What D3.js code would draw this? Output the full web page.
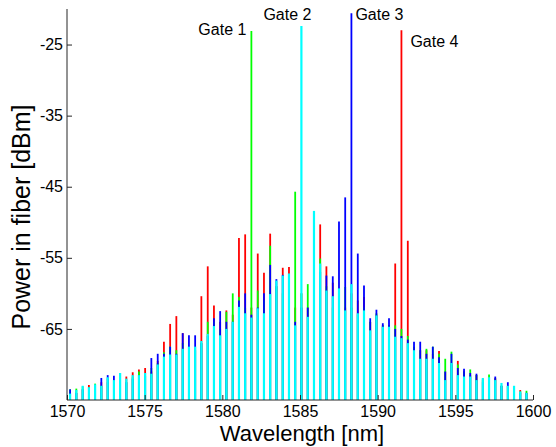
<!DOCTYPE html>
<html>
<head>
<meta charset="utf-8">
<script src="https://cdn.jsdelivr.net/npm/d3@7"></script>
<style>
  body { margin: 0; background: #fff; }
  svg { display: block; font-family: "Liberation Sans", Arial, Helvetica, sans-serif; }
</style>
</head>
<body>
<div id="chart"></div>
<script>
// comb line wavelengths [nm]
var wavelengths = [
  1570.20, 1570.60, 1571.01, 1571.41, 1571.81, 1572.21, 1572.62, 1573.02, 1573.42, 1573.82,
  1574.23, 1574.63, 1575.03, 1575.43, 1575.84, 1576.24, 1576.64, 1577.04, 1577.45, 1577.85,
  1578.25, 1578.65, 1579.06, 1579.46, 1579.86, 1580.26, 1580.67, 1581.07, 1581.47, 1581.87,
  1582.28, 1582.68, 1583.08, 1583.48, 1583.89, 1584.29, 1584.69, 1585.09, 1585.50, 1585.90,
  1586.30, 1586.70, 1587.11, 1587.51, 1587.91, 1588.31, 1588.72, 1589.12, 1589.52, 1589.92,
  1590.33, 1590.73, 1591.13, 1591.53, 1591.94, 1592.34, 1592.74, 1593.14, 1593.55, 1593.95,
  1594.35, 1594.75, 1595.16, 1595.56, 1595.96, 1596.36, 1596.77, 1597.17, 1597.57, 1597.97,
  1598.38, 1598.78, 1599.18, 1599.58
];

// peak power per comb line [dBm], one array per gate
var redPower = [   // gate 4
  -74, -74, -73.5, -72.9, -73, -72.5, -72.5, -72.5, -72, -71.7,
  -71.1, -70.7, -70.5, -71.0, -69.5, -66.8, -64.3, -63.2, -65.6, -68,
  -68, -60.4, -56.2, -61.7, -64, -62.4, -63, -52.2, -51.7, -62,
  -54.4, -57.1, -51.6, -59, -56.4, -56.3, -62, -60, -62, -55,
  -50.3, -56.2, -58.5, -60, -62, -60, -61, -60.5, -64, -63,
  -64.5, -64.5, -55.8, -23.0, -52.6, -68, -68, -68.0, -68.5, -68.1,
  -71, -70, -69.5, -71, -71.5, -71.5, -72, -72, -71.9, -73,
  -73, -73.3, -73.6, -74
];
var greenPower = [ // gate 1
  -73.5, -73.4, -73.1, -73.2, -72.7, -73, -72, -72.3, -72, -72.5,
  -71.8, -71.0, -71.5, -70.5, -69.8, -68.3, -67.5, -68, -67, -67.6,
  -68, -67, -64.0, -64, -65, -62.6, -60.0, -60.5, -62, -23.1,
  -59.6, -61, -53.3, -59, -60, -59, -45.7, -60, -58.7, -55,
  -55.1, -59, -62, -62, -59.1, -62, -63, -62, -64, -62.8,
  -64.5, -64.5, -64.5, -65, -66, -67.5, -68, -67.8, -67.5, -68.5,
  -69.2, -68.2, -70, -71, -70.7, -71.5, -72.2, -71.4, -72, -73,
  -73, -73.3, -73.8, -73.7
];
var bluePower = [  // gate 3
  -73.5, -74, -73.5, -73.5, -73, -71.9, -71.5, -71.6, -71.4, -72.5,
  -72, -71.5, -71.5, -69.1, -68.5, -68.5, -67.5, -68.5, -65.6, -65.9,
  -65.9, -67, -66, -63.5, -62.5, -64, -64, -61, -60, -63,
  -62, -60, -56, -58.0, -57.4, -57.5, -64, -62, -62, -52,
  -57, -57.5, -57.6, -49.9, -46.5, -20.6, -54.4, -58.9, -63.5, -62.3,
  -64.2, -63.5, -65, -66, -66.5, -66.8, -66.8, -68.5, -67.5, -69,
  -71, -68.5, -70.5, -70.6, -71.2, -71.3, -72.5, -72, -71.7, -73,
  -72.5, -73.5, -74, -74
];
var cyanPower = [  // gate 2
  -74.1, -73.6, -73.0, -73.2, -72.8, -73.0, -71.8, -72.2, -71.2, -72.0,
  -71.5, -71.5, -71.2, -71.3, -70.0, -68.9, -68.6, -68.6, -67.8, -67.5,
  -67.5, -66.7, -65.7, -64.6, -65.9, -65.0, -64.0, -61.9, -62.8, -63.4,
  -62.1, -62.8, -60.1, -58.2, -57.5, -57.2, -64.5, -22.4, -63.3, -48.4,
  -55.8, -59.6, -60.4, -59.3, -62.4, -58.7, -62.8, -62.4, -65.2, -63.1,
  -64.7, -64.7, -66.1, -66.3, -67.0, -68.0, -69.2, -69.2, -69.2, -69.8,
  -72.2, -69.8, -71.5, -71.7, -71.7, -72.2, -71.9, -71.8, -72.2, -72.6,
  -73.0, -73.0, -73.8, -74.0
];

var xTicks = [1570, 1575, 1580, 1585, 1590, 1595, 1600];
var yTicks = [-25, -35, -45, -55, -65];
var gateNames = ["Gate 1", "Gate 2", "Gate 3", "Gate 4"];
var gateWavelengths = [1581.87, 1585.09, 1588.31, 1591.53];

var width = 556, height = 447;
var margin = {top: 9, right: 23, bottom: 47, left: 67};
var innerW = width - margin.left - margin.right,
    innerH = height - margin.top - margin.bottom;

var svg = d3.select("#chart").append("svg")
    .attr("width", width)
    .attr("height", height);

var x = d3.scaleLinear().domain([1570, 1600]).range([0, innerW]);
var y = d3.scaleLinear().domain([-75, -20]).range([innerH, 0]);

var g = svg.append("g").attr("transform", "translate(" + margin.left + "," + margin.top + ")");

g.append("clipPath").attr("id", "clip")
  .append("rect").attr("width", innerW).attr("height", innerH);

var plot = g.append("g").attr("clip-path", "url(#clip)");

var series = [
  {values: redPower,   color: "#ff0000", w: 1.8},
  {values: greenPower, color: "#00ff00", w: 1.8},
  {values: bluePower,  color: "#0000ff", w: 1.8},
  {values: cyanPower,  color: "#00ffff", w: 2.2}
];

series.forEach(function(s) {
  plot.append("g").selectAll("line")
      .data(s.values)
    .enter().append("line")
      .attr("x1", function(d, i) { return x(wavelengths[i]); })
      .attr("x2", function(d, i) { return x(wavelengths[i]); })
      .attr("y1", innerH + 2)
      .attr("y2", function(d) { return y(d); })
      .attr("stroke", s.color)
      .attr("stroke-width", s.w);
});

// axes (MATLAB style, ticks inward, no box)
var axisColor = "#262626";
var xAxis = g.append("g").attr("transform", "translate(0," + innerH + ")")
    .call(d3.axisBottom(x).tickValues(xTicks).tickSize(-5).tickPadding(6)
      .tickFormat(function(d) { return String(d); }));
var yAxis = g.append("g")
    .call(d3.axisLeft(y).tickValues(yTicks).tickSize(-5).tickPadding(4)
      .tickFormat(function(d) { return String(d); }));

[xAxis, yAxis].forEach(function(a) {
  a.select(".domain").attr("stroke", axisColor).attr("stroke-width", 1);
  a.selectAll(".tick line").attr("stroke", axisColor);
  a.selectAll(".tick text").attr("fill", "#000").style("font-size", "16px")
    .style("font-family", "'Liberation Sans', Arial, sans-serif");
});
xAxis.select(".domain").attr("d", "M0,0H" + innerW);
yAxis.select(".domain").attr("d", "M0,0V" + innerH);

// gate labels
var labelPos = [
  {dx: -5, v: -23.6, anchor: "end"},
  {dx: -38, v: -21.6, anchor: "start"},
  {dx: 4, v: -21.6, anchor: "start"},
  {dx: 9, v: -25.4, anchor: "start"}
];
g.selectAll(".gate").data(gateNames).enter().append("text")
    .attr("class", "gate")
    .attr("x", function(d, i) { return x(gateWavelengths[i]) + labelPos[i].dx; })
    .attr("y", function(d, i) { return y(labelPos[i].v); })
    .attr("text-anchor", function(d, i) { return labelPos[i].anchor; })
    .style("font-size", "16px")
    .text(function(d) { return d; });

// axis titles
svg.append("text")
    .attr("x", 302)
    .attr("y", 441)
    .attr("text-anchor", "middle")
    .style("font-size", "22px")
    .text("Wavelength [nm]");

svg.append("text")
    .attr("transform", "translate(30,217) rotate(-90)")
    .attr("text-anchor", "middle")
    .style("font-size", "25px")
    .text("Power in fiber [dBm]");
</script>
</body>
</html>
